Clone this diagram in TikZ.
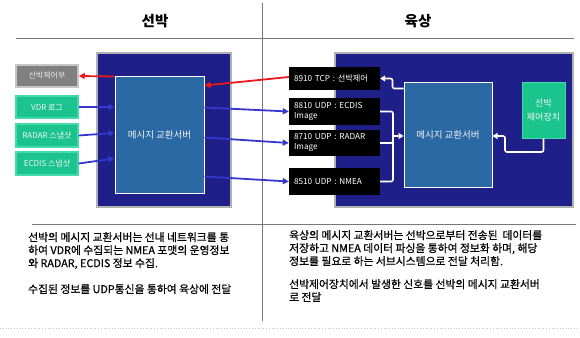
\documentclass[tikz,border=0pt]{standalone}
\usepackage{fontspec}
\setmainfont{Noto Sans CJK KR}
\usetikzlibrary{arrows.meta,calc}
\definecolor{navy}{RGB}{31,31,138}
\definecolor{srv}{RGB}{43,105,165}
\definecolor{mint}{RGB}{26,196,140}
\definecolor{mintb}{RGB}{70,218,170}
\definecolor{gbox}{RGB}{128,128,128}
\definecolor{gboxb}{RGB}{198,198,198}
\definecolor{redarr}{RGB}{235,25,25}
\definecolor{bluearr}{RGB}{55,55,205}
\definecolor{rule}{RGB}{120,120,120}
\tikzset{
  bigbox/.style={draw=gboxb!70!gray, line width=1.2pt, fill=navy, inner sep=0pt},
  srvbox/.style={draw=white, line width=1pt, fill=srv, inner sep=0pt, text=white!90!gray,
    font=\fontsize{9.5}{11}\selectfont},
  greenbox/.style={draw=mintb, line width=1.2pt, fill=mint, inner sep=0pt, text=white!92!gray,
    minimum width=62pt, font=\fontsize{8}{9}\selectfont},
  graybox/.style={draw=gboxb, line width=1.5pt, fill=gbox, inner sep=0pt, text=white!82!gray,
    minimum width=62pt, font=\fontsize{8}{9}\selectfont},
  portbox/.style={fill=black, inner xsep=5pt, inner ysep=0pt, text=white, align=left,
    text width=81pt, minimum width=91pt, font=\fontsize{8.2}{10}\selectfont},
  redline/.style={draw=redarr, line width=1.8pt, -{Triangle[length=6pt,width=6pt]}},
  blueline/.style={draw=bluearr, line width=1.8pt, -{Triangle[length=6pt,width=6pt]}},
  whiteline/.style={draw=white, line width=1.6pt, rounded corners=2pt},
  whitearr/.style={whiteline, -{Triangle[length=5pt,width=6pt]}},
  head/.style={font=\fontsize{14.5}{16}\bfseries\selectfont},
  para/.style={anchor=north west, inner sep=0pt, align=left, text=black,
    font=\fontsize{10.8}{13}\selectfont\addfontfeature{FakeBold=0.6}}
}
\begin{document}
\begin{tikzpicture}[x=1pt,y=-1pt]
\useasboundingbox (0,0) rectangle (580,337);
% frame lines
\draw[rule, line width=0.8pt] (16,38) -- (574,38);
\draw[rule, line width=0.8pt] (262,3) -- (262,321);
\draw[rule, line width=0.8pt] (32,224) -- (576,224);
\draw[gray!45, line width=0.8pt, dotted] (0,328) -- (580,328);
% headers
\node[head] (hship) at (155,21) {선박};
\node[head] (hland) at (418,21) {육상};
% left side
\node[bigbox, minimum width=134pt, minimum height=154pt] (lbig) at (164,130) {};
\node[srvbox, minimum width=89pt, minimum height=117pt] (lsrv) at (159.5,134.5) {메시지 교환서버};
\node[graybox, minimum height=22pt] (ctrl) at (47,76) {선박제어부};
\node[greenbox, minimum height=22pt] (vdr) at (47,107) {VDR 로그};
\node[greenbox, minimum height=23pt] (radar) at (47,135.5) {RADAR 스냅샷};
\node[greenbox, minimum height=23pt] (ecdis) at (47,163.5) {ECDIS 스냅샷};
% right side
\node[bigbox, minimum width=238pt, minimum height=154pt] (rbig) at (454,130) {};
\node[srvbox, minimum width=88pt, minimum height=105pt] (rsrv) at (448,134.5) {메시지 교환서버};
\node[draw=mintb, line width=1pt, fill=mint, inner sep=0pt, text=white!92!gray, align=center,
  minimum width=43pt, minimum height=56pt, font=\fontsize{9}{14}\selectfont] (rctrl) at (543.5,110) {선박\\제어장치};
\node[portbox, minimum height=23pt] (p8910) at (334.5,78.5) {8910 TCP : 선박제어};
\node[portbox, minimum height=27pt] (p8810) at (334.5,111.5) {8810 UDP : ECDIS\\Image};
\node[portbox, minimum height=26pt] (p8710) at (334.5,143) {8710 UDP : RADAR\\Image};
\node[portbox, minimum height=27pt] (p8510) at (334.5,181.5) {8510 UDP : NMEA};
% red arrows
\draw[redline] ($(p8910.west)+(0,-1.5)$) -- ($(lsrv.north east)+(0,10)$);
\draw[redline] ($(lsrv.north west)+(0,1)$) -- (ctrl.east);
% blue arrows
\draw[blueline] (vdr.east) -- (lsrv.west |- vdr.east);
\draw[blueline] (radar.east) -- ($(lsrv.west)+(0,-1.5)$);
\draw[blueline] (ecdis.east) -- ($(lsrv.west)+(0,24)$);
\draw[blueline] ($(lsrv.north east)+(0,32)$) -- (p8810.west);
\draw[blueline] ($(lsrv.north east)+(0,62)$) -- (p8710.west);
\draw[blueline] ($(lsrv.north east)+(0,101)$) -- (p8510.west);
% white connectors
\draw[whitearr] ($(rsrv.north west)+(0,7)$) -- ++(-11,0) |- (p8910.east);
\coordinate (merge) at (393,136);
\draw[whiteline] (p8810.east) -| (merge);
\draw[whiteline] (p8710.east) -| (merge);
\draw[whiteline] (p8510.east) -| (merge);
\draw[whitearr, rounded corners=0pt] (merge) -- (rsrv.west |- merge);
\coordinate (cturn) at (505,152);
\draw[whitearr] (rctrl.south) |- (cturn) -- (cturn |- merge) -- (rsrv.east |- merge);
% texts
\node[para] (tleft1) at (28,232) {선박의 메시지 교환서버는 선내 네트워크를 통\\하여 VDR에 수집되는 NMEA 포맷의 운영정보\\와 RADAR, ECDIS 정보 수집.};
\node[para] (tleft2) at (28,284) {수집된 정보를 UDP통신을 통하여 육상에 전달};
\node[para] (tright1) at (289,230) {육상의 메시지 교환서버는 선박으로부터 전송된\ \ 데이터를\\저장하고 NMEA 데이터 파싱을 통하여 정보화 하며, 해당\\정보를 필요로 하는 서브시스템으로 전달 처리함.};
\node[para] (tright2) at (289,279) {선박제어장치에서 발생한 신호를 선박의 메시지 교환서버\\로 전달};
\end{tikzpicture}
\end{document}
